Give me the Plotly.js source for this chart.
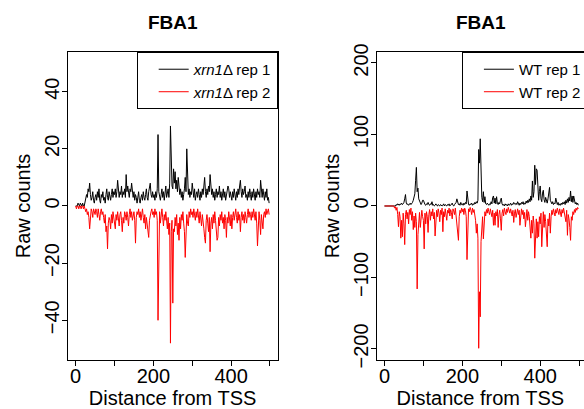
<!DOCTYPE html>
<html><head><meta charset="utf-8">
<script src="https://cdn.plot.ly/plotly-3.0.1.min.js"></script>
<style>html,body{margin:0;padding:0;background:#fff}#chart{width:584px;height:409px}</style>
</head><body><div id="chart"></div>
<script>
// Read counts every 2 bp from the TSS (0..498)
const positionStepBp = 2;
const xrn1Rep1 = [
 0,0,0,1,0,0,1,0,0,1,0,0,1,2,4,3,6,5,8,4,2,3,5,2,1,
 3,4,2,5,3,6,2,1,4,3,5,2,3,1,4,6,3,2,5,3,2,4,6,3,5,
 4,6,3,5,9,6,3,5,4,7,3,5,4,6,3,11,5,7,4,3,6,5,8,4,3,
 5,2,4,3,1,3,5,2,1,3,4,2,5,3,2,4,6,3,2,5,7,8,4,3,5,
 3,4,2,5,3,6,25,5,3,2,4,6,3,5,2,4,7,3,5,6,3,8,28,9,7,
 6,13,8,12,6,9,5,10,7,4,6,3,5,2,4,6,10,5,20,7,4,6,3,5,4,
 8,5,3,6,2,4,5,3,6,4,2,5,3,6,4,7,10,5,3,6,4,7,5,11,6,
 4,6,3,5,2,4,6,3,5,4,7,3,5,2,4,6,3,5,2,4,5,7,6,3,5,
 4,2,5,3,6,4,2,5,3,6,4,7,9,5,3,6,4,5,7,3,4,2,5,3,6,
 4,2,5,3,6,4,2,5,3,6,4,5,3,9,5,3,6,4,2,5,3,6,2,3,1
];
const xrn1Rep2 = [
 0,-1,0,0,-1,0,0,-1,0,0,-1,0,-1,-2,-1,-3,-2,-4,-8,-3,-1,-2,-4,-1,-2,
 -3,-1,-2,-4,-1,-3,-5,-2,-1,-3,-2,-4,-6,-3,-9,-7,-15,-6,-4,-5,-8,-3,-6,-2,-4,
 -6,-8,-3,-5,-2,-4,-7,-3,-2,-5,-9,-4,-6,-2,-3,-5,-2,-4,-7,-3,-1,-4,-2,-5,-3,
 -2,-5,-13,-4,-2,-3,-1,-4,-2,-5,-3,-1,-4,-6,-3,-8,-4,-7,-9,-11,-5,-3,-2,-1,-3,
 -2,-4,-1,-3,-2,-5,-40,-4,-2,-6,-3,-1,-4,-7,-3,-5,-2,-6,-8,-4,-10,-6,-48,-9,-5,
 -34,-8,-9,-4,-7,-3,-10,-6,-12,-4,-8,-3,-5,-2,-6,-9,-18,-5,-3,-6,-7,-2,-4,-1,-3,
 -2,-4,-1,-3,-5,-2,-4,-1,-3,-6,-2,-4,-7,-3,-5,-8,-11,-13,-5,-3,-6,-9,-4,-16,-6,
 -4,-8,-3,-6,-2,-5,-8,-12,-11,-4,-7,-3,-5,-2,-6,-4,-8,-3,-5,-11,-4,-6,-2,-5,-7,
 -3,-8,-4,-2,-5,-3,-1,-4,-6,-2,-5,-3,-9,-4,-2,-5,-3,-6,-2,-4,-6,-3,-1,-4,-2,
 -3,-5,-2,-4,-1,-3,-5,-2,-6,-14,-4,-2,-5,-10,-3,-6,-8,-3,-2,-4,-1,-3,-2,-1,-3
];
const wtRep1 = [
 0,0,0,0,0,0,0,0,0,0,0,0,0,1,0,2,1,3,2,1,3,2,4,2,3,
 5,10,16,4,2,3,1,2,4,2,3,5,8,12,17,36,54,20,25,10,6,3,2,4,8,
 8,3,2,1,3,2,5,2,1,3,2,6,1,2,0,1,3,1,0,2,1,0,2,1,0,
 1,3,0,2,1,0,2,1,3,0,1,2,4,1,0,2,3,5,10,4,2,3,1,5,2,
 3,1,4,2,5,3,21,6,2,1,3,2,4,1,3,2,5,3,6,4,8,79,60,94,40,
 12,6,20,5,13,3,2,4,2,1,3,2,6,3,12,14,4,11,3,13,4,2,5,3,8,
 11,3,1,2,0,3,1,2,0,3,1,2,4,1,3,2,5,3,2,4,2,6,3,1,4,
 2,5,3,6,2,4,3,7,4,8,5,10,6,14,8,35,12,20,57,30,52,50,15,8,20,
 28,10,6,18,22,9,5,12,7,4,10,16,26,8,4,3,6,2,4,3,11,4,2,5,1,
 3,1,4,2,5,3,6,2,8,4,10,5,12,7,21,6,14,5,14,6,3,5,2,4,1
];
const wtRep2 = [
 0,0,-1,0,0,-1,0,0,-1,0,0,-1,0,-3,-1,-6,-2,-12,-29,-8,-15,-45,-20,-43,-10,
 -25,-54,-12,-6,-18,-9,-25,-5,-12,-3,-20,-8,-33,-14,-30,-10,-22,-116,-40,-18,-9,-30,-12,-6,-15,
 -20,-60,-10,-25,-8,-15,-37,-12,-5,-20,-8,-14,-4,-18,-9,-42,-12,-6,-15,-4,-10,-22,-6,-12,-3,
 -36,-8,-15,-4,-12,-20,-6,-10,-3,-14,-5,-9,-18,-4,-7,-12,-3,-16,-25,-35,-48,-15,-6,-10,-3,
 -8,-4,-12,-3,-6,-15,-75,-10,-4,-8,-2,-6,-12,-3,-9,-5,-14,-20,-38,-25,-45,-199,-120,-155,-50,
 -30,-15,-46,-20,-8,-14,-5,-10,-3,-8,-12,-4,-9,-15,-6,-27,-10,-27,-8,-14,-5,-30,-12,-6,-18,
 -34,-10,-5,-14,-3,-8,-12,-4,-9,-2,-6,-10,-4,-8,-14,-6,-23,-10,-5,-16,-8,-4,-12,-6,-27,
 -10,-4,-12,-6,-18,-9,-29,-12,-5,-20,-8,-15,-30,-45,-20,-38,-14,-25,-73,-30,-18,-45,-22,-43,-15,
 -25,-10,-57,-20,-8,-30,-12,-22,-35,-57,-18,-28,-10,-38,-15,-6,-12,-4,-9,-14,-5,-10,-3,-8,-12,
 -4,-9,-15,-5,-10,-3,-8,-14,-22,-6,-41,-12,-18,-30,-48,-15,-20,-8,-12,-5,-9,-3,-6,-2,-4
];
const seriesNames = ['<i>xrn1</i>\u0394 rep 1', '<i>xrn1</i>\u0394 rep 2', 'WT rep 1', 'WT rep 2'];
const panelTitles = ['FBA1', 'FBA1'];
const xTickVals = [0, 100, 200, 300, 400, 500];
const xTickText = ['0', '', '200', '', '400', ''];
const yTickValsLeft = [-40, -20, 0, 20, 40];
const yTickValsRight = [-200, -100, 0, 100, 200];
const xLabel = 'Distance from TSS';
const yLabel = 'Raw counts';

const positions = xrn1Rep1.map((_, i) => i * positionStepBp);
const fontFam = 'Liberation Sans, Arial, Helvetica, sans-serif';

const traces = [
  {x: positions, y: xrn1Rep1, name: seriesNames[0], type: 'scatter', mode: 'lines', line: {color: 'black', width: 1}, xaxis: 'x', yaxis: 'y', legend: 'legend'},
  {x: positions, y: xrn1Rep2, name: seriesNames[1], type: 'scatter', mode: 'lines', line: {color: 'red', width: 1}, xaxis: 'x', yaxis: 'y', legend: 'legend'},
  {x: positions, y: wtRep1, name: seriesNames[2], type: 'scatter', mode: 'lines', line: {color: 'black', width: 1}, xaxis: 'x2', yaxis: 'y2', legend: 'legend2'},
  {x: positions, y: wtRep2, name: seriesNames[3], type: 'scatter', mode: 'lines', line: {color: 'red', width: 1}, xaxis: 'x2', yaxis: 'y2', legend: 'legend2'}
];

const axisBase = {
  showline: true, linecolor: 'black', linewidth: 1, ticks: 'outside', ticklen: 5, tickwidth: 1, tickcolor: 'black',
  showgrid: false, zeroline: false, automargin: false, fixedrange: true,
  tickfont: {family: fontFam, size: 20, color: 'black'}
};
const xAxisExtra = {ticklabelstandoff: -7, tickvals: xTickVals, ticktext: xTickText,
  title: {text: xLabel, font: {family: fontFam, size: 20, color: 'black'}, standoff: 12}};
const yAxisExtra = {ticklabelstandoff: -5, tickangle: -90,
  title: {text: yLabel, font: {family: fontFam, size: 20, color: 'black'}, standoff: 4}};
const yDom = [0.1198, 0.8729];
const legendBase = {
  bordercolor: 'black', borderwidth: 1, bgcolor: 'white', yanchor: 'top', y: yDom[1], xanchor: 'right',
  font: {family: fontFam, size: 15, color: 'black'}, indentation: 16, tracegroupgap: 0
};

const layout = {
  width: 584, height: 409,
  margin: {l: 0, r: 0, t: 0, b: 0, autoexpand: false},
  paper_bgcolor: 'white', plot_bgcolor: 'white',
  showlegend: true,
  font: {family: fontFam, color: 'black'},
  xaxis: Object.assign({}, axisBase, xAxisExtra, {domain: [0.1156, 0.4755], range: [-21, 520], anchor: 'y', mirror: true}),
  yaxis: Object.assign({}, axisBase, yAxisExtra, {domain: yDom, range: [-53.9, 53.9], anchor: 'x', mirror: true, tickvals: yTickValsLeft}),
  xaxis2: Object.assign({}, axisBase, xAxisExtra, {domain: [0.645, 1], range: [-20, 512.5], anchor: 'y2', mirror: true}),
  yaxis2: Object.assign({}, axisBase, yAxisExtra, {domain: yDom, range: [-215.4, 215.4], anchor: 'x2', mirror: false, tickvals: yTickValsRight}),
  legend: Object.assign({}, legendBase, {x: 0.4755}),
  legend2: Object.assign({}, legendBase, {x: 1.005}),
  annotations: [
    {text: '<b>' + panelTitles[0] + '</b>', xref: 'paper', yref: 'paper', x: 0.2955, y: 0.946, xanchor: 'center', yanchor: 'middle', showarrow: false, font: {family: fontFam, size: 19, color: 'black'}},
    {text: '<b>' + panelTitles[1] + '</b>', xref: 'paper', yref: 'paper', x: 0.8236, y: 0.946, xanchor: 'center', yanchor: 'middle', showarrow: false, font: {family: fontFam, size: 19, color: 'black'}}
  ]
};

Plotly.newPlot('chart', traces, layout, {staticPlot: true, displayModeBar: false});
</script></body></html>
